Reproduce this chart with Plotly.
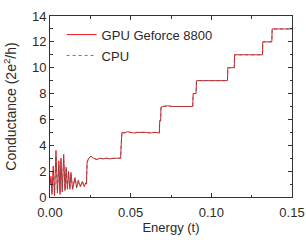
import plotly.graph_objects as go

# Oscillating low-energy region (shared energies)
osc_energy = [0.0000, 0.0006, 0.0012, 0.0020, 0.0028, 0.0037, 0.0046, 0.0055, 0.0062, 0.0068,
              0.0076, 0.0085, 0.0093, 0.0100, 0.0108, 0.0115, 0.0123, 0.0130, 0.0140, 0.0155,
              0.0165, 0.0175, 0.0188, 0.0200, 0.0212, 0.0222, 0.0226]
gpu_osc = [1.0, 1.6, 0.2, 2.4, 0.1, 3.6, 0.3, 2.8, 0.2, 3.0,
           0.4, 3.3, 0.5, 2.3, 0.6, 2.0, 0.6, 1.9, 0.6, 1.5,
           0.7, 1.3, 0.8, 1.2, 0.8, 1.1, 1.0]
cpu_osc = [1.0, 1.4, 0.4, 2.1, 0.3, 3.2, 0.5, 2.5, 0.4, 2.7,
           0.6, 2.9, 0.6, 2.1, 0.7, 1.8, 0.7, 1.7, 0.7, 1.4,
           0.8, 1.2, 0.8, 1.2, 0.9, 1.1, 1.0]

# Quantised conductance steps (shared)
step_energy = [0.0230, 0.0240, 0.0255, 0.0270, 0.0290, 0.0310, 0.0330, 0.0350, 0.0370, 0.0400,
               0.0430, 0.0438, 0.0441, 0.0443, 0.0446, 0.0460, 0.0480, 0.0500, 0.0520, 0.0540,
               0.0560, 0.0580, 0.0600, 0.0620, 0.0650, 0.0678, 0.0680, 0.0686, 0.0688, 0.0700,
               0.0730, 0.0760, 0.0790, 0.0820, 0.0850, 0.0885, 0.0887, 0.0905, 0.0908, 0.0940,
               0.0980, 0.1020, 0.1060, 0.1100, 0.1102, 0.1142, 0.1144, 0.1180, 0.1220, 0.1260,
               0.1300, 0.1317, 0.1319, 0.1375, 0.1377, 0.1420, 0.1460, 0.1500]
step_value = [2.7, 3.0, 3.15, 3.0, 2.9, 3.0, 2.95, 3.0, 2.95, 3.0,
              2.98, 3.0, 4.0, 4.3, 5.0, 4.95, 5.05, 5.0, 4.95, 5.0,
              5.0, 5.05, 5.0, 4.95, 5.0, 4.95, 5.9, 5.9, 6.95, 7.0,
              7.05, 7.0, 7.0, 6.97, 7.0, 7.0, 8.0, 8.0, 9.0, 9.0,
              9.02, 9.0, 9.0, 9.0, 10.0, 10.0, 11.0, 11.0, 11.03, 11.0,
              11.0, 11.0, 12.0, 12.0, 13.0, 13.0, 13.0, 13.0]

gpu_energy = osc_energy + step_energy
gpu_value = gpu_osc + step_value
cpu_energy = osc_energy + step_energy
cpu_value = cpu_osc + step_value

x_ticks = [0.00, 0.05, 0.10, 0.15]
y_ticks = [0, 2, 4, 6, 8, 10, 12, 14]

font_family = "Liberation Sans, Arial, sans-serif"
txt = "#2a2a2a"

fig = go.Figure()
fig.add_trace(go.Scatter(x=gpu_energy, y=gpu_value, mode="lines", name="GPU Geforce 8800",
                         line=dict(color="#ec1c24", width=1), legendgroup="g"))
fig.add_trace(go.Scatter(x=cpu_energy, y=cpu_value, mode="lines", name="CPU",
                         line=dict(color="#555555", width=0.8, dash="dot"), legendgroup="c"))

axis_common = dict(showline=True, linecolor="#333333", linewidth=1, mirror="allticks",
                   ticks="inside", ticklen=4, tickcolor="#333333", showgrid=False, zeroline=False,
                   automargin=False,
                   tickfont=dict(size=13, color=txt, family=font_family))

fig.update_xaxes(range=[0, 0.15], tickvals=x_ticks, ticktext=[f"{v:.2f}" for v in x_ticks],
                 ticklabelstandoff=3,
                 minor=dict(ticks="inside", ticklen=2.5, tickcolor="#333333", dtick=0.025, tick0=0),
                 title=dict(text="Energy (t)", font=dict(size=13, color=txt, family=font_family),
                            standoff=2),
                 **axis_common)
fig.update_yaxes(range=[0, 14], tickvals=y_ticks,
                 minor=dict(ticks="inside", ticklen=2.5, tickcolor="#333333", dtick=1, tick0=0),
                 title=dict(text="Conductance (2e<sup>2</sup>/h)",
                            font=dict(size=14, color=txt, family=font_family), standoff=12),
                 **axis_common)

fig.update_layout(
    width=306, height=240,
    margin=dict(l=50, r=14, t=16, b=43),
    paper_bgcolor="white", plot_bgcolor="white",
    font=dict(family=font_family, color=txt),
    legend=dict(x=0.048, y=0.98, xanchor="left", yanchor="top", bgcolor="rgba(0,0,0,0)",
                font=dict(size=13, family=font_family, color=txt),
                tracegroupgap=1, traceorder="grouped"),
)

fig.write_html("out.html", config={"displayModeBar": False},
               post_script="document.body.style.margin='0';")
